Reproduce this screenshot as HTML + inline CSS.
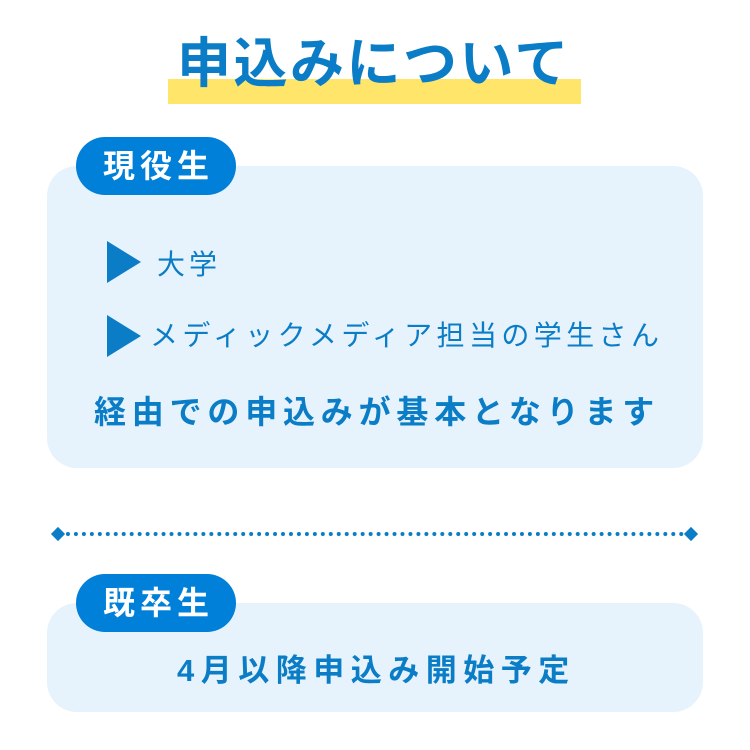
<!DOCTYPE html>
<html><head><meta charset="utf-8"><style>
body{margin:0;width:750px;height:750px;background:#fff;position:relative;overflow:hidden;font-family:"Liberation Sans","Noto Sans CJK JP",sans-serif;}
div{position:absolute;}
.t{white-space:nowrap;line-height:1;}
.blue{color:#0a7dc6;font-weight:bold;}
.box{background:#e6f2fc;border-radius:30px;left:47px;width:656px;}
.pill{background:#0080d8;border-radius:29px;left:76px;width:160px;height:58px;color:#fff;font-weight:bold;font-size:32px;letter-spacing:5px;text-align:center;line-height:58px;text-indent:5px;}
.tri{width:0;height:0;border-top:21px solid transparent;border-bottom:21px solid transparent;border-left:34px solid #0a7dc6;}
</style></head><body>
<div style="left:168px;top:79px;width:413px;height:25px;background:#ffe66b"></div>
<div class="t blue" style="left:177px;top:37px;font-size:54px;letter-spacing:2.5px;">申込みについて</div>

<div class="box" style="top:166px;height:302px"></div>
<div class="pill" style="top:137px">現役生</div>
<div class="tri" style="left:107px;top:241px"></div>
<div class="t blue" style="left:157px;top:251px;font-size:28px;letter-spacing:4px;font-weight:normal;">大学</div>
<div class="tri" style="left:107px;top:315px"></div>
<div class="t blue" style="left:150px;top:322px;font-size:28px;letter-spacing:4.4px;font-weight:normal;">メディックメディア担当の学生さん</div>
<div class="t blue" style="left:94px;top:396px;font-size:32px;letter-spacing:5.8px;">経由での申込みが基本となります</div>

<div style="left:58px;top:532px;width:634px;border-top:4px dotted #0a7dc6"></div>
<div style="left:53px;top:529px;width:10px;height:10px;background:#0a7dc6;transform:rotate(45deg)"></div>
<div style="left:686px;top:529px;width:10px;height:10px;background:#0a7dc6;transform:rotate(45deg)"></div>

<div class="box" style="top:603px;height:109px"></div>
<div class="pill" style="top:574px">既卒生</div>
<div class="t blue" style="left:177px;top:655px;font-size:31px;letter-spacing:6.5px;">4月以降申込み開始予定</div>
</body></html>
